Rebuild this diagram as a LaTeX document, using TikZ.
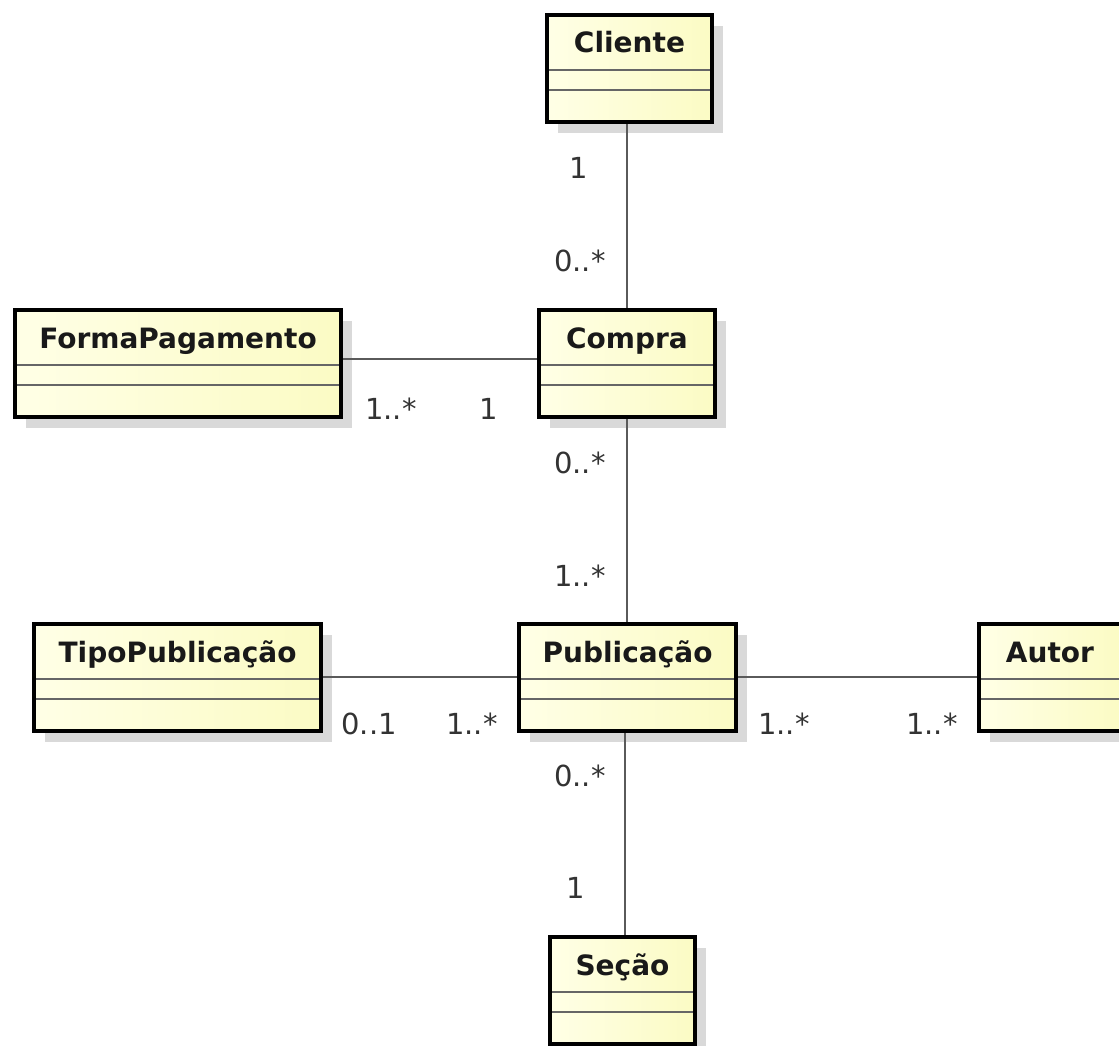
\documentclass[tikz,border=0pt]{standalone}
\usepackage{fontspec}
\setsansfont{DejaVu Sans}
\usetikzlibrary{positioning}
\usetikzlibrary{shadows}
\definecolor{classlight}{HTML}{FFFFE6}
\definecolor{classdark}{HTML}{FBFBC4}
\definecolor{linegray}{HTML}{5A5A5A}

% class box: name, north west corner, width, title
\newcommand{\umlclass}[4]{%
	\node[classbox, minimum width=#3] (#1) at #2 {};
	\node[classname] (#1-name) at ([yshift=-38pt]#1.north) {#4};
	\draw[compline] ([yshift=-55pt]#1.north west) -- ([yshift=-55pt]#1.north east);
	\draw[compline] ([yshift=-75pt]#1.north west) -- ([yshift=-75pt]#1.north east);
}

\begin{document}
\begin{tikzpicture}[x=1pt, y=-1pt, font=\sffamily]
    \tikzstyle{classbox}=[draw=black, line width=4pt, rectangle, anchor=north west, minimum height=107pt, inner sep=0pt, outer sep=0pt, left color=classlight, right color=classdark, drop shadow={shadow xshift=11pt, shadow yshift=-11pt, fill=black!15, opacity=1}]
    \tikzstyle{classname}=[anchor=base, inner sep=0pt, text=black!90, font=\sffamily\bfseries\fontsize{28}{32}\selectfont]
    \tikzstyle{compline}=[draw=black!60, line width=2pt, shorten <=2pt, shorten >=2pt]
    \tikzstyle{assoc}=[draw=linegray, line width=2pt, shorten <=2pt, shorten >=2pt]
    \tikzstyle{mult}=[inner sep=0pt, text=black!80, font=\sffamily\fontsize{29}{33}\selectfont]

    \useasboundingbox (0,0) rectangle (1119,1046);

	\umlclass{Cliente}{(547,15)}{165pt}{Cliente}
	\umlclass{FormaPagamento}{(15,310)}{326pt}{FormaPagamento}
	\umlclass{Compra}{(539,310)}{176pt}{Compra}
	\umlclass{TipoPublicacao}{(34,624)}{287pt}{TipoPublicação}
	\umlclass{Publicacao}{(519,624)}{217pt}{Publicação}
	\umlclass{Autor}{(979,624)}{142pt}{Autor}
	\umlclass{Secao}{(550,937)}{145pt}{Seção}

    % associations
    \draw[assoc] (Compra.north |- Cliente.south) -- (Compra.north);
    \draw[assoc] ([yshift=-49pt]FormaPagamento.north east) -- ([yshift=-49pt]Compra.north west);
    \draw[assoc] (Compra.south) -- (Compra.south |- Publicacao.north);
    \draw[assoc] ([yshift=-53pt]TipoPublicacao.north east) -- ([yshift=-53pt]Publicacao.north west);
    \draw[assoc] ([yshift=-53pt]Publicacao.north east) -- ([yshift=-53pt]Autor.north west);
    \draw[assoc] ([xshift=2.5pt]Secao.north |- Publicacao.south) -- ([xshift=2.5pt]Secao.north);

    % multiplicities
    \node[mult] (mCliente) at ([shift={(-50.5,46)}]Cliente.south) {1};
    \node[mult] (mCompraTop) at ([shift={(-47,-49)}]Compra.north) {0..*};
    \node[mult] (mForma) at ([shift={(50,-8)}]FormaPagamento.south east) {1..*};
    \node[mult] (mCompraLeft) at ([shift={(-50,-8)}]Compra.south west) {1};
    \node[mult] (mCompraBot) at ([shift={(-47,46)}]Compra.south) {0..*};
    \node[mult] (mPubTop) at ([shift={(-47.5,-48)}]Publicacao.north) {1..*};
    \node[mult] (mTipo) at ([shift={(48,-7)}]TipoPublicacao.south east) {0..1};
    \node[mult] (mPubLeft) at ([shift={(-47,-7)}]Publicacao.south west) {1..*};
    \node[mult] (mPubRight) at ([shift={(48,-7)}]Publicacao.south east) {1..*};
    \node[mult] (mAutor) at ([shift={(-47,-7)}]Autor.south west) {1..*};
    \node[mult] (mPubBot) at ([shift={(-47.5,45)}]Publicacao.south) {0..*};
    \node[mult] (mSecao) at ([shift={(-46.5,-49)}]Secao.north) {1};
\end{tikzpicture}
\end{document}
